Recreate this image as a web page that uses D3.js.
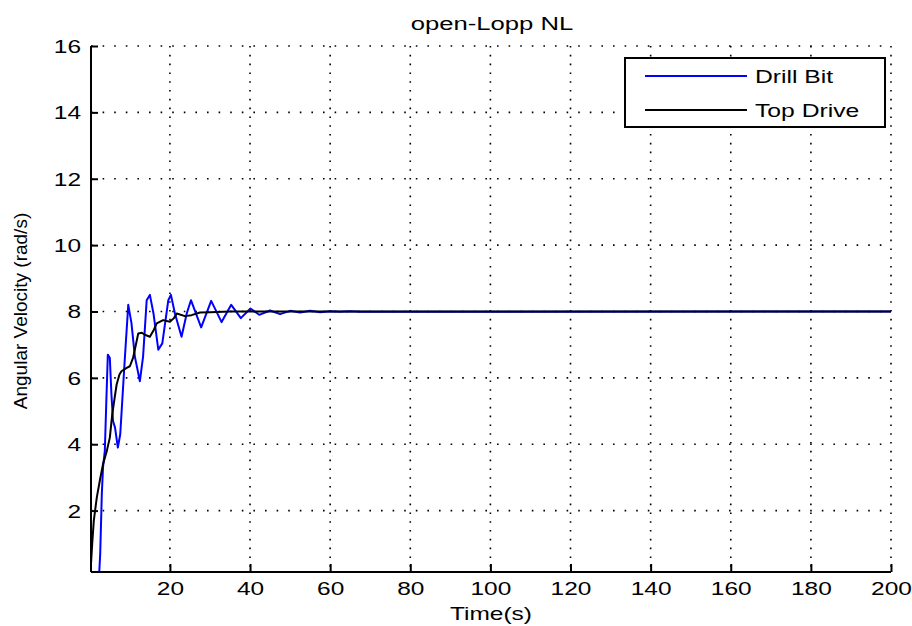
<!DOCTYPE html>
<html>
<head>
<meta charset="utf-8">
<script src="https://cdn.jsdelivr.net/npm/d3@7"></script>
<style>
  body { margin: 0; background: #fff; }
  text { font-family: "Liberation Sans", Arial, sans-serif; fill: #000; }
</style>
</head>
<body>
<div id="chart"></div>
<script>
// values
const bitTime = [2.3, 2.6, 3.0, 3.3, 3.75, 4.1, 4.5, 5.0, 5.4, 5.8, 6.3, 7.0, 7.6, 8.0, 8.75, 9.6, 10.4, 11.25, 12.5, 13.3, 14.2, 15.0, 15.9, 17.1, 18.1, 19.6, 20.25, 21.25, 22.9, 24.2, 25.25, 27.8, 30.3, 32.9, 35.3, 37.7, 40.1, 42.3, 45, 47.5, 50, 52.5, 55, 57.5, 60, 62.5, 65, 67.5, 200];
const bitVel = [0.0, 0.7, 2.5, 3.3, 3.8, 5.2, 6.7, 6.6, 5.5, 4.7, 4.5, 3.9, 4.3, 5.1, 6.6, 8.2, 7.65, 6.64, 5.9, 6.64, 8.34, 8.5, 7.94, 6.85, 7.04, 8.34, 8.5, 7.94, 7.24, 7.94, 8.34, 7.52, 8.32, 7.68, 8.2, 7.8, 8.09, 7.9, 8.03, 7.92, 8.02, 7.97, 8.02, 7.98, 8.01, 7.99, 8.01, 7.99, 8.0];

const topTime = [0.3, 0.6, 1.0, 1.75, 2.5, 3.3, 4.25, 5.0, 5.6, 6.2, 6.7, 7.4, 7.9, 9.2, 10.0, 10.8, 11.5, 12.1, 13.0, 13.75, 15.0, 16.0, 16.7, 18.3, 20.0, 21.0, 21.7, 23.75, 25.4, 27.5, 30, 35, 200];
const topVel = [0.4, 1.0, 1.7, 2.4, 2.9, 3.4, 3.8, 4.2, 4.9, 5.4, 5.8, 6.1, 6.2, 6.3, 6.35, 6.6, 7.0, 7.34, 7.36, 7.3, 7.24, 7.45, 7.64, 7.74, 7.69, 7.8, 7.94, 7.86, 7.89, 7.97, 7.98, 8.0, 8.0];

const xTicks = [20, 40, 60, 80, 100, 120, 140, 160, 180, 200];
const yTicks = [2, 4, 6, 8, 10, 12, 14, 16];
const seriesNames = ["Drill Bit", "Top Drive"];
const seriesColors = ["#0000ff", "#000000"];

const svgWidth = 912;
const svgHeight = 626;
const margin = { top: 46, right: 21, bottom: 54, left: 91 };
const width = svgWidth - margin.left - margin.right;
const height = svgHeight - margin.top - margin.bottom;
const stretchX = 1.3; // the picture's text is wider than it is tall

const svg = d3.select("#chart")
  .append("svg")
  .attr("width", svgWidth)
  .attr("height", svgHeight);

const chartGroup = svg.append("g")
  .attr("transform", `translate(${margin.left}, ${margin.top})`);

const x = d3.scaleLinear().domain([0.3, 200]).range([0, width]);
const y = d3.scaleLinear().domain([0.15, 16]).range([height, 0]);

// widen a text horizontally around its own anchor
function stretch(sel, k) {
  sel.each(function () {
    const t = d3.select(this);
    const tx = +t.attr("x") || 0;
    const ty = +t.attr("y") || 0;
    t.attr("x", 0).attr("y", 0)
      .attr("transform", `translate(${tx},${ty}) scale(${k},1)`);
  });
}

// dotted grid
chartGroup.append("g")
  .selectAll("line")
  .data(xTicks)
  .join("line")
  .attr("x1", d => x(d)).attr("x2", d => x(d))
  .attr("y1", 0).attr("y2", height)
  .attr("stroke", "#000")
  .attr("stroke-width", 1.6)
  .attr("stroke-dasharray", "1.6,7.2");

chartGroup.append("g")
  .selectAll("line")
  .data(yTicks)
  .join("line")
  .attr("x1", 0).attr("x2", width)
  .attr("y1", d => y(d)).attr("y2", d => y(d))
  .attr("stroke", "#000")
  .attr("stroke-width", 1.6)
  .attr("stroke-dasharray", "1.6,10");

// series
chartGroup.append("clipPath").attr("id", "clip")
  .append("rect").attr("width", width).attr("height", height);

const line = d3.line().x(d => x(d[0])).y(d => y(d[1]));
const series = [d3.zip(bitTime, bitVel), d3.zip(topTime, topVel)];

chartGroup.append("g").attr("clip-path", "url(#clip)")
  .selectAll("path")
  .data(series)
  .join("path")
  .attr("d", line)
  .attr("fill", "none")
  .attr("stroke", (d, i) => seriesColors[i])
  .attr("stroke-width", 2)
  .attr("stroke-linejoin", "round");

// axes (ticks inward, no top/right box)
const bottomAxis = d3.axisBottom(x).tickValues(xTicks).tickSize(-8).tickPadding(9);
const leftAxis = d3.axisLeft(y).tickValues(yTicks).tickSize(-7).tickPadding(10);

const gx = chartGroup.append("g")
  .attr("transform", `translate(0, ${height})`)
  .call(bottomAxis);
const gy = chartGroup.append("g").call(leftAxis);

[gx, gy].forEach(g => {
  g.select(".domain").attr("stroke-width", 2);
  g.selectAll(".tick line").attr("stroke-width", 2);
  g.selectAll(".tick text").style("font-size", "18px");
});
gy.select(".domain").attr("d", `M0,${height}V0`);
gx.select(".domain").attr("d", `M0,0H${width}`);
gx.selectAll(".tick text").attr("dy", "0.8em");
gy.selectAll(".tick text").attr("dy", "0.36em");
stretch(gx.selectAll(".tick text"), 1.36);
stretch(gy.selectAll(".tick text"), 1.36);

// titles
svg.append("text")
  .attr("x", 492)
  .attr("y", 30)
  .attr("text-anchor", "middle")
  .style("font-size", "19px")
  .text("open-Lopp NL")
  .call(stretch, 1.35);

svg.append("text")
  .attr("x", 491)
  .attr("y", 620)
  .attr("text-anchor", "middle")
  .style("font-size", "18px")
  .text("Time(s)")
  .call(stretch, 1.36);

svg.append("text")
  .attr("transform", `translate(27, 311) rotate(-90)`)
  .attr("text-anchor", "middle")
  .style("font-size", "19px")
  .text("Angular Velocity (rad/s)");

// legend
const legend = svg.append("g").attr("transform", "translate(625, 58)");
legend.append("rect")
  .attr("width", 260).attr("height", 69)
  .attr("fill", "#fff").attr("stroke", "#000").attr("stroke-width", 2);

const rows = legend.selectAll("g.row")
  .data(seriesNames)
  .join("g")
  .attr("class", "row")
  .attr("transform", (d, i) => `translate(0, ${18 + i * 34})`);

rows.append("line")
  .attr("x1", 20).attr("x2", 122)
  .attr("stroke", (d, i) => seriesColors[i])
  .attr("stroke-width", 2);

rows.append("text")
  .attr("x", 130)
  .attr("y", 0)
  .attr("dy", "0.36em")
  .style("font-size", "19px")
  .text(d => d)
  .call(stretch, stretchX);
</script>
</body>
</html>
